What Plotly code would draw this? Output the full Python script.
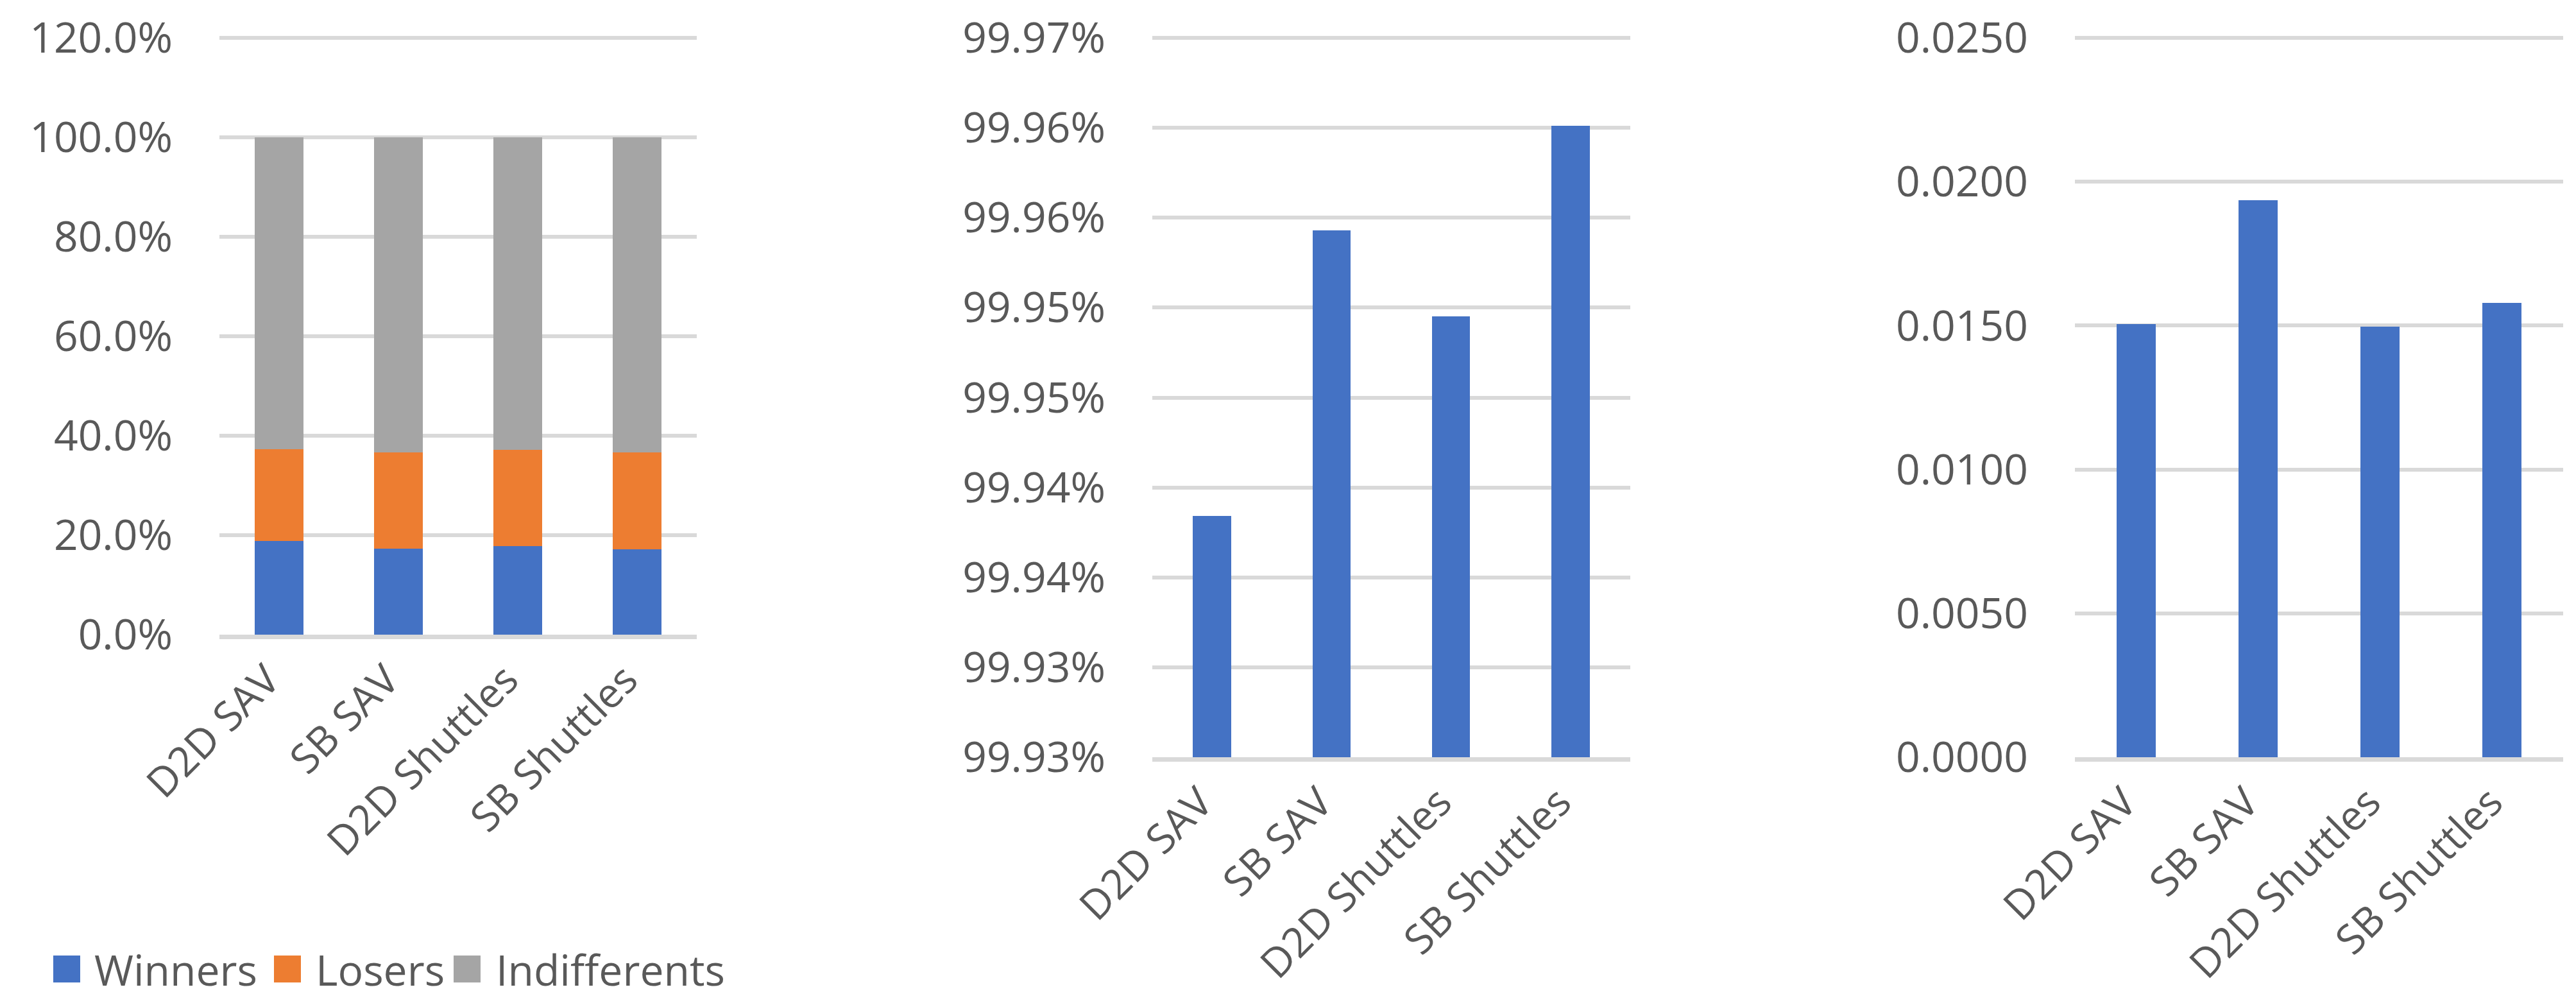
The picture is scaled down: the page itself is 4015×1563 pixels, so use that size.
import plotly.graph_objects as go

# ---------------- data ----------------
categories = ["D2D SAV", "SB SAV", "D2D Shuttles", "SB Shuttles"]

series_names = ["Winners", "Losers", "Indifferents"]
winners = [0.188, 0.1725, 0.1777, 0.1712]
losers = [0.185, 0.1935, 0.1933, 0.1948]
indifferents = [0.627, 0.634, 0.629, 0.634]

chart2_values = [0.999434, 0.999593, 0.999545, 0.999651]
chart2_tickvals = [0.9993, 0.99935, 0.9994, 0.99945, 0.9995, 0.99955, 0.9996, 0.99965, 0.9997]
chart2_ticktext = ["99.93%", "99.93%", "99.94%", "99.94%", "99.95%", "99.95%", "99.96%", "99.96%", "99.97%"]

chart3_values = [0.01505, 0.01936, 0.01496, 0.01578]

# ---------------- style ----------------
W, H = 4015, 1563
FONT = "Open Sans"
TXT = "#595959"
GRID = "#D9D9D9"
FS = 66
XFS = 64
colors = ["#4472C4", "#ED7D31", "#A5A5A5"]


def dx(a, b):
    return [a / W, b / W]


def axis_geom(vmin, vmax, p_min, p_max, dom_top):
    """Plot area spans dom_top..p_min pixels; vmin sits on the bottom edge,
    vmax on pixel row p_max (kept a few px inside so its gridline is drawn)."""
    ppu = (p_min - p_max) / (vmax - vmin)
    r0 = vmin - 1e-9 * (vmax - vmin)
    r1 = vmax + (p_max - dom_top) / ppu
    return [(H - p_min) / H, (H - dom_top) / H], [r0, r1]


dom1, rng1 = axis_geom(0, 1.2, 981, 51, 47)
dom2, rng2 = axis_geom(0.9993, 0.9997, 1172, 51, 47)
dom3, rng3 = axis_geom(0, 0.025, 1172, 51, 47)

fig = go.Figure()

for name, vals, col in zip(series_names, [winners, losers, indifferents], colors):
    fig.add_trace(go.Bar(x=categories, y=vals, name=name, marker_color=col,
                         marker_line_width=0, width=0.41, xaxis="x", yaxis="y",
                         showlegend=False))

fig.add_trace(go.Bar(x=categories, y=chart2_values, marker_color=colors[0],
                     marker_line_width=0, width=0.32, xaxis="x2", yaxis="y2",
                     showlegend=False))
fig.add_trace(go.Bar(x=categories, y=chart3_values, marker_color=colors[0],
                     marker_line_width=0, width=0.32, xaxis="x3", yaxis="y3",
                     showlegend=False))

xcommon = dict(type="category", tickangle=-45, showgrid=False, zeroline=False,
               showline=True, linecolor=GRID, linewidth=7, ticks="",
               tickfont=dict(family=FONT, size=XFS, color=TXT), automargin=False,
               ticklabelstandoff=0, ticklabelshift=-18, fixedrange=True)
ycommon = dict(showgrid=True, gridcolor=GRID, gridwidth=6, showline=False, zeroline=False,
               ticks="", tickfont=dict(family=FONT, size=FS, color=TXT),
               automargin=False, ticklabelstandoff=72, fixedrange=True)

fig.update_layout(
    width=W, height=H,
    margin=dict(l=0, r=0, t=0, b=0),
    paper_bgcolor="white", plot_bgcolor="white",
    barmode="stack",
    showlegend=False,
    xaxis=dict(domain=dx(334, 1078), anchor="y", **xcommon),
    yaxis=dict(domain=dom1, anchor="x", range=rng1, tick0=0, dtick=0.2,
               tickformat=".1%", **ycommon),
    xaxis2=dict(domain=dx(1788, 2533), anchor="y2", **xcommon),
    yaxis2=dict(domain=dom2, anchor="x2", range=rng2,
                tickmode="array", tickvals=chart2_tickvals, ticktext=chart2_ticktext,
                **ycommon),
    xaxis3=dict(domain=dx(3226, 3987), anchor="y3", **xcommon),
    yaxis3=dict(domain=dom3, anchor="x3", range=rng3, tick0=0, dtick=0.005,
                tickformat=".4f", **ycommon),
)

# custom legend (Excel-style large square keys)
legend_sq_x = [75, 419, 699]
legend_txt_x = [137, 482, 763]
leg_top, leg_bot = 1481, 1523
for name, col, sx, tx in zip(series_names, colors, legend_sq_x, legend_txt_x):
    fig.add_shape(type="rect", xref="paper", yref="paper",
                  x0=sx / W, x1=(sx + 42) / W,
                  y0=(H - leg_bot) / H, y1=(H - leg_top) / H,
                  fillcolor=col, line_width=0)
    fig.add_annotation(xref="paper", yref="paper", x=tx / W, y=(H - (leg_top + leg_bot) / 2) / H,
                       text=name, showarrow=False, xanchor="left", yanchor="middle",
                       font=dict(family=FONT, size=FS, color=TXT))

fig.write_html("out.html")
